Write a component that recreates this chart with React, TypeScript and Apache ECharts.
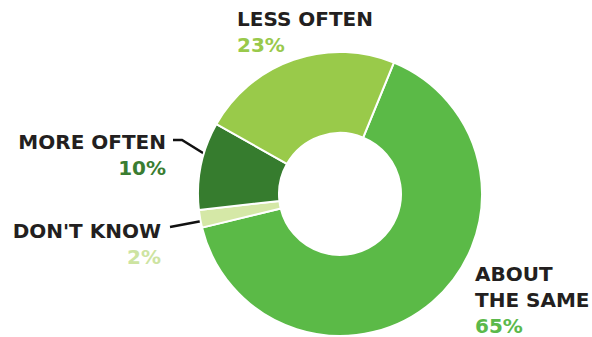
import React, { useEffect, useRef } from "react";
import * as echarts from "echarts";

const categories = ["ABOUT THE SAME", "DON'T KNOW", "MORE OFTEN", "LESS OFTEN"];
const labelLines = [["ABOUT", "THE SAME"], ["DON'T KNOW"], ["MORE OFTEN"], ["LESS OFTEN"]];
const values = [65, 2, 10, 23];
const colors = ["#5bba47", "#d5e8a7", "#367c2e", "#99ca4a"];
const pctColors = ["#5bb94b", "#cde4a1", "#3a7d31", "#99c94b"];

// layout (chart px)
const CX = 340;
const CY = 194;
const R = 142;
const R0 = 61;
const START_CW = 22.3; // degrees clockwise from 12 o'clock
const LINE_H = 26;
const FONT = "DejaVu Sans";
const FONT_SIZE = 20;
const labelPlace = [
  { x: 475, y: 261, align: "left" },
  { x: 161, y: 218, align: "right" },
  { x: 166, y: 129, align: "right" },
  { x: 237, y: 6, align: "left" },
];
const guide: Record<number, { gap: number; dy: number; elbow: number; rIn: number; dAng: number }> = {
  1: { gap: 9, dy: 9, elbow: 0, rIn: 130, dAng: -1 },
  2: { gap: 7, dy: 11, elbow: 9, rIn: 133, dAng: 4 },
};

export default function App() {
  const ref = useRef<HTMLDivElement>(null);
  useEffect(() => {
    document.body.style.margin = "0";
    const chart = echarts.init(ref.current!, null, { renderer: "svg" });
    const total = values.reduce((a, b) => a + b, 0);
    const midAngles: number[] = [];
    let cum = 0;
    values.forEach((v) => {
      midAngles.push(START_CW + ((cum + v / 2) / total) * 360);
      cum += v;
    });
    const data = categories.map((name, i) => ({
      name,
      value: values[i],
      itemStyle: { color: colors[i] },
      labelLine: { show: !!guide[i], lineStyle: { color: "#111", width: 2.5 } },
      label: {
        formatter:
          labelLines[i].map((l) => `{n|${l}}`).join("\n") + `\n{p${i}|${values[i]}%}`,
      },
    }));
    const rich: any = {
      n: { fontFamily: FONT, fontWeight: "bold", fontSize: FONT_SIZE, color: "#231f20", lineHeight: LINE_H },
    };
    pctColors.forEach((c, i) => {
      rich["p" + i] = { fontFamily: FONT, fontWeight: "bold", fontSize: FONT_SIZE, color: c, lineHeight: LINE_H };
    });
    chart.setOption({
      animation: false,
      series: [
        {
          type: "pie",
          center: [CX, CY],
          radius: [R0, R],
          startAngle: 90 - START_CW,
          clockwise: true,
          avoidLabelOverlap: false,
          itemStyle: { borderColor: "#ffffff", borderWidth: 2 },
          label: { show: true, position: "outside", rich },
          labelLine: { show: true, length: 10, length2: 10 },
          emphasis: { disabled: true },
          data,
          labelLayout: (params: any) => {
            const i = params.dataIndex;
            const p = labelPlace[i];
            const out: any = { x: p.x, y: p.y, align: p.align, verticalAlign: "top" };
            const g = guide[i];
            if (g) {
              const a = ((midAngles[i] + g.dAng) * Math.PI) / 180;
              const end = [CX + g.rIn * Math.sin(a), CY - g.rIn * Math.cos(a)];
              const startX = p.x + g.gap;
              const startY = p.y + g.dy;
              out.labelLinePoints = [
                [startX, startY],
                [startX + g.elbow, startY],
                end,
              ];
            }
            return out;
          },
        },
      ],
    });
    return () => chart.dispose();
  }, []);
  return <div ref={ref} style={{ width: 592, height: 337 }} />;
}
